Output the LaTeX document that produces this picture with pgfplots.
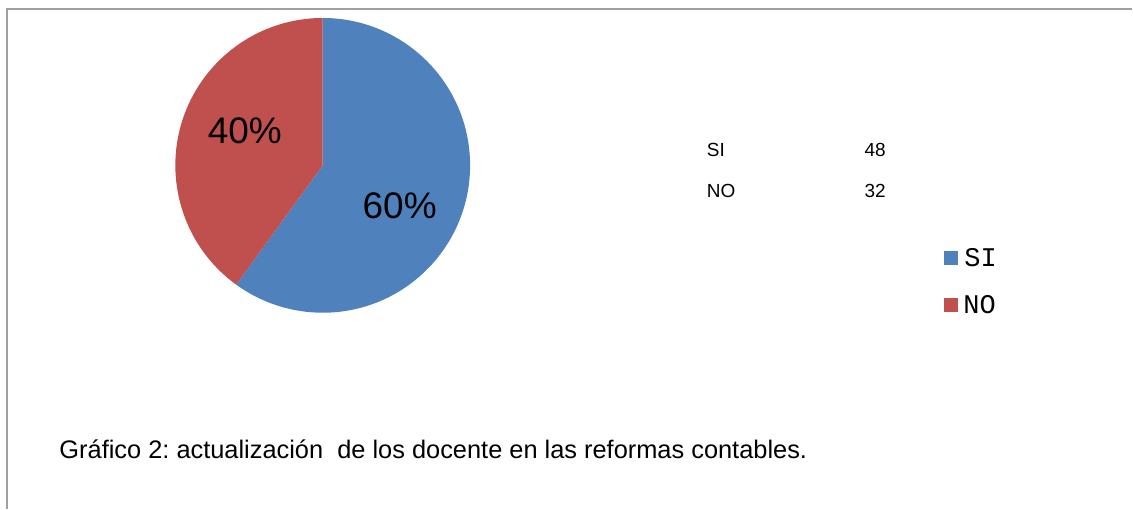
\documentclass[border=0pt]{standalone}
\usepackage{pgfplots}
\usepackage{pgfplotstable}
\pgfplotsset{compat=1.18}
\usepackage{fontspec}
\setmainfont{Liberation Sans}
\newfontfamily\monofont{Liberation Mono}
\definecolor{siblue}{HTML}{4F81BD}
\definecolor{nored}{HTML}{C0504D}
\definecolor{framegray}{HTML}{A0A0A0}
\pgfplotstableread{
label value
SI 48
NO 32
}\datatable
\begin{document}
\frenchspacing
\begin{tikzpicture}
\pgfplotstablegetelem{0}{value}\of\datatable \let\vsi\pgfplotsretval
\pgfplotstablegetelem{1}{value}\of\datatable \let\vno\pgfplotsretval
\pgfmathsetmacro\total{\vsi+\vno}
\pgfmathsetmacro\asi{\vsi/\total*360}
\pgfmathsetmacro\aend{90-\asi}
\pgfmathtruncatemacro\psi{round(\vsi/\total*100)}
\pgfmathtruncatemacro\pno{round(\vno/\total*100)}
\begin{axis}[scale only axis, width=1133pt, height=509pt,
  xmin=0, xmax=1133, ymin=0, ymax=509, y dir=reverse,
  hide axis, clip=false]
\path (axis cs:0,0) rectangle (axis cs:1133,509);
% frame
\draw[framegray, line width=2pt] (axis cs:7,509) -- (axis cs:7,9) -- (axis cs:1133,9);
% pie
\fill[siblue] (axis cs:323,165.5) -- ++(90:147.5pt) arc[start angle=90, end angle=\aend, radius=147.5pt] -- cycle;
\fill[nored] (axis cs:323,165.5) -- ++(\aend:147.5pt) arc[start angle=\aend, end angle=-270, radius=147.5pt] -- cycle;
\node[font=\fontsize{37}{40}\selectfont, text=black] at (axis cs:400,206) {\psi\%};
\node[font=\fontsize{37}{40}\selectfont, text=black] at (axis cs:245,131) {\pno\%};
% data table
\node[anchor=west, font=\fontsize{19}{21}\selectfont] at (axis cs:704,150) {SI};
\node[anchor=east, font=\fontsize{19}{21}\selectfont] at (axis cs:890,150) {\vsi};
\node[anchor=west, font=\fontsize{19}{21}\selectfont] at (axis cs:704,191) {NO};
\node[anchor=east, font=\fontsize{19}{21}\selectfont] at (axis cs:890,191) {\vno};
% legend
\fill[siblue] (axis cs:945,251) rectangle (axis cs:959,265);
\fill[nored] (axis cs:945,298) rectangle (axis cs:959,312);
\node[anchor=west, inner sep=0pt, font=\monofont\fontsize{27}{29}\selectfont] at (axis cs:965,258) {SI};
\node[anchor=west, inner sep=0pt, font=\monofont\fontsize{27}{29}\selectfont] at (axis cs:964,305) {NO};
% caption
\node[anchor=west, font=\fontsize{25.4}{28}\selectfont] at (axis cs:56,450) {Gráfico 2: actualización\ \ de los docente en las reformas contables.};
\end{axis}
\end{tikzpicture}
\end{document}
